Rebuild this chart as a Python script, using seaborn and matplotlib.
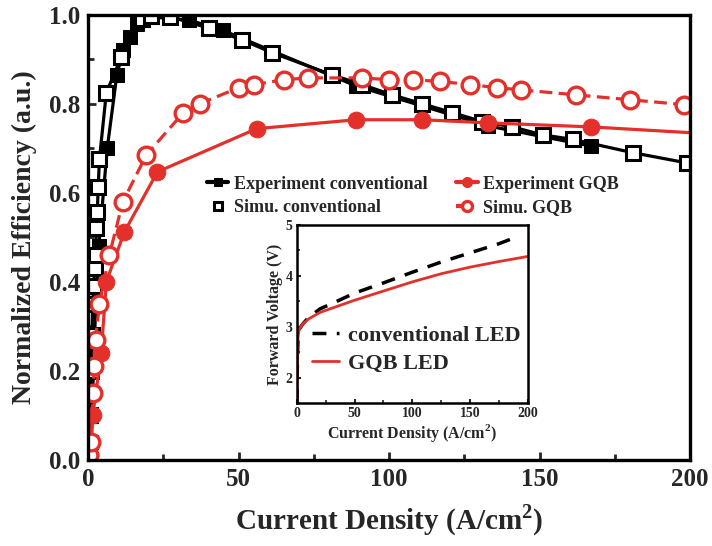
import matplotlib
matplotlib.use("Agg")
import matplotlib.pyplot as plt
from matplotlib.ticker import MultipleLocator
import seaborn as sns

# Efficiency vs current density (A/cm^2)
exp_conv_j = [0.3, 1.0, 2.0, 3.5, 6.3, 9.5, 11.6, 14.0, 16.3, 21.0, 33.6, 44.7, 89.0, 133.0, 167.0]
exp_conv_eff = [0.0, 0.04, 0.27, 0.48, 0.70, 0.865, 0.92, 0.95, 0.98, 0.995, 0.988, 0.965, 0.84, 0.75, 0.705]

sim_conv_j = [0.3, 0.6, 0.9, 1.2, 1.5, 1.8, 2.1, 2.4, 2.7, 3.0, 3.3, 3.7, 6.0, 11.0, 18.0, 21.0,
              27.0, 40.0, 51.0, 61.0, 81.0, 91.0, 101.0, 111.0, 121.0, 131.0, 141.0, 151.0,
              161.0, 181.0, 199.0]
sim_conv_eff = [0.02, 0.10, 0.20, 0.28, 0.35, 0.39, 0.43, 0.46, 0.52, 0.557, 0.613, 0.675, 0.825,
                0.905, 0.99, 0.997, 0.996, 0.97, 0.944, 0.915, 0.865, 0.843, 0.82, 0.80, 0.78,
                0.76, 0.748, 0.73, 0.72, 0.69, 0.667]

exp_gqb_j = [0.5, 1.5, 4.3, 6.0, 12.0, 23.0, 56.0, 89.0, 111.0, 133.0, 167.0, 200.0]
exp_gqb_eff = [0.01, 0.10, 0.24, 0.40, 0.512, 0.647, 0.744, 0.764, 0.764, 0.757, 0.748, 0.735]

sim_gqb_j = [0.3, 1.0, 1.6, 2.0, 2.4, 3.7, 7.0, 11.5, 19.3, 31.6, 37.0, 50.0, 55.0, 65.0, 73.0,
             91.0, 100.0, 108.0, 117.0, 127.0, 136.0, 144.0, 162.0, 180.0, 198.0]
sim_gqb_eff = [0.01, 0.04, 0.15, 0.21, 0.27, 0.35, 0.46, 0.58, 0.685, 0.78, 0.80, 0.836, 0.843,
               0.854, 0.858, 0.858, 0.854, 0.854, 0.85, 0.843, 0.836, 0.831, 0.82, 0.809, 0.798]

# Forward voltage vs current density
iv_conv_j = [0, 0.5, 1, 2, 5, 10, 20, 30, 50, 75, 100, 125, 150, 175, 190]
iv_conv_v = [1.5, 2.4, 2.8, 2.95, 3.05, 3.18, 3.35, 3.45, 3.66, 3.86, 4.07, 4.27, 4.45, 4.63, 4.76]
iv_gqb_j = [0, 0.5, 1, 2, 5, 10, 20, 30, 50, 75, 100, 125, 150, 175, 200]
iv_gqb_v = [1.5, 2.4, 2.8, 2.95, 3.05, 3.15, 3.28, 3.36, 3.52, 3.70, 3.88, 4.04, 4.17, 4.28, 4.38]

RED = "#e3302a"

sns.set_theme(style="ticks")
plt.rcParams["font.family"] = ["Liberation Serif", "DejaVu Serif"]
plt.rcParams["font.weight"] = "bold"
plt.rcParams["axes.labelweight"] = "bold"
plt.rcParams["mathtext.fontset"] = "custom"
plt.rcParams["mathtext.rm"] = "Liberation Serif:bold"
plt.rcParams["mathtext.bf"] = "Liberation Serif:bold"

fig = plt.figure(figsize=(7.12, 5.46), dpi=100)
ax = fig.add_axes([0.124, 0.158, 0.845, 0.815])

lw = 2.3
sns.lineplot(x=exp_conv_j, y=exp_conv_eff, ax=ax, sort=False, color="black", lw=lw,
             marker="s", markersize=10, markerfacecolor="black", markeredgecolor="black",
             label="Experiment conventional")
sns.lineplot(x=sim_conv_j, y=sim_conv_eff, ax=ax, sort=False, color="black", lw=lw,
             marker="s", markersize=10, markerfacecolor="white", markeredgecolor="black",
             markeredgewidth=2.2, label="Simu. conventional")
sns.lineplot(x=exp_gqb_j, y=exp_gqb_eff, ax=ax, sort=False, color=RED, lw=lw,
             marker="o", markersize=12, markerfacecolor=RED, markeredgecolor=RED,
             markevery=list(range(len(exp_gqb_j) - 1)), label="Experiment GQB")
sns.lineplot(x=sim_gqb_j, y=sim_gqb_eff, ax=ax, sort=False, color=RED, lw=lw,
             linestyle=(0, (4, 2)), marker="o", markersize=12, markerfacecolor="white",
             markeredgecolor=RED, markeredgewidth=2.4, label="Simu. GQB")

ax.set_xlim(0, 200)
ax.set_ylim(0, 1.0)
ax.xaxis.set_major_locator(MultipleLocator(50))
ax.xaxis.set_minor_locator(MultipleLocator(25))
ax.yaxis.set_minor_locator(MultipleLocator(0.1))
ax.set_yticks([0.0, 0.2, 0.4, 0.6, 0.8, 1.0])
ax.set_yticklabels(["0.0", "0.2", "0.4", "0.6", "0.8", "1.0"])
ax.tick_params(axis="both", which="major", direction="in", length=6, width=2,
               labelsize=18, pad=6)
ax.tick_params(axis="both", which="minor", direction="in", length=4, width=2)
for s in ax.spines.values():
    s.set_linewidth(2.4)
    s.set_color("black")
ax.set_xlabel("Current Density (A/cm$^{2}$)", fontsize=21, labelpad=8)
ax.set_ylabel("Normalized Efficiency (a.u.)", fontsize=20, labelpad=8)

handles, labels = ax.get_legend_handles_labels()
leg = ax.legend(handles, labels, ncol=2,
                loc="upper left", bbox_to_anchor=(0.17, 0.675), frameon=False,
                fontsize=13, handlelength=1.2, handletextpad=0.3, columnspacing=1.6,
                labelspacing=0.35, markerscale=0.6)
for h in leg.legend_handles:
    h.set_linewidth(3)
# Simulated conventional entry shown by marker only
leg.legend_handles[1].set_linestyle("none")

# Inset: forward voltage
ins = fig.add_axes([0.417, 0.262, 0.324, 0.326])
sns.lineplot(x=iv_conv_j, y=iv_conv_v, ax=ins, sort=False, color="black", lw=2.5,
             linestyle=(0, (4, 3)), label="conventional LED")
sns.lineplot(x=iv_gqb_j, y=iv_gqb_v, ax=ins, sort=False, color=RED, lw=2.0,
             label="GQB LED")
ins.set_xlim(0, 200)
ins.set_ylim(1.5, 5)
ins.xaxis.set_major_locator(MultipleLocator(50))
ins.xaxis.set_minor_locator(MultipleLocator(25))
ins.yaxis.set_major_locator(MultipleLocator(1))
ins.yaxis.set_minor_locator(MultipleLocator(0.5))
ins.tick_params(axis="both", which="major", direction="in", length=3, width=1.5,
                labelsize=10, pad=3)
ins.tick_params(axis="both", which="minor", direction="in", length=2, width=1.2)
for s in ins.spines.values():
    s.set_linewidth(1.8)
    s.set_color("black")
ins.set_xlabel("Current Density (A/cm$^{2}$)", fontsize=11.5, labelpad=1)
ins.set_ylabel("Forward Voltage (V)", fontsize=11.5, labelpad=2)
ins.legend(loc="lower left", bbox_to_anchor=(-0.02, 0.05), frameon=False, fontsize=16,
           handlelength=1.2, handletextpad=0.4, labelspacing=0.35)

fig.savefig("out.png", dpi=100)
